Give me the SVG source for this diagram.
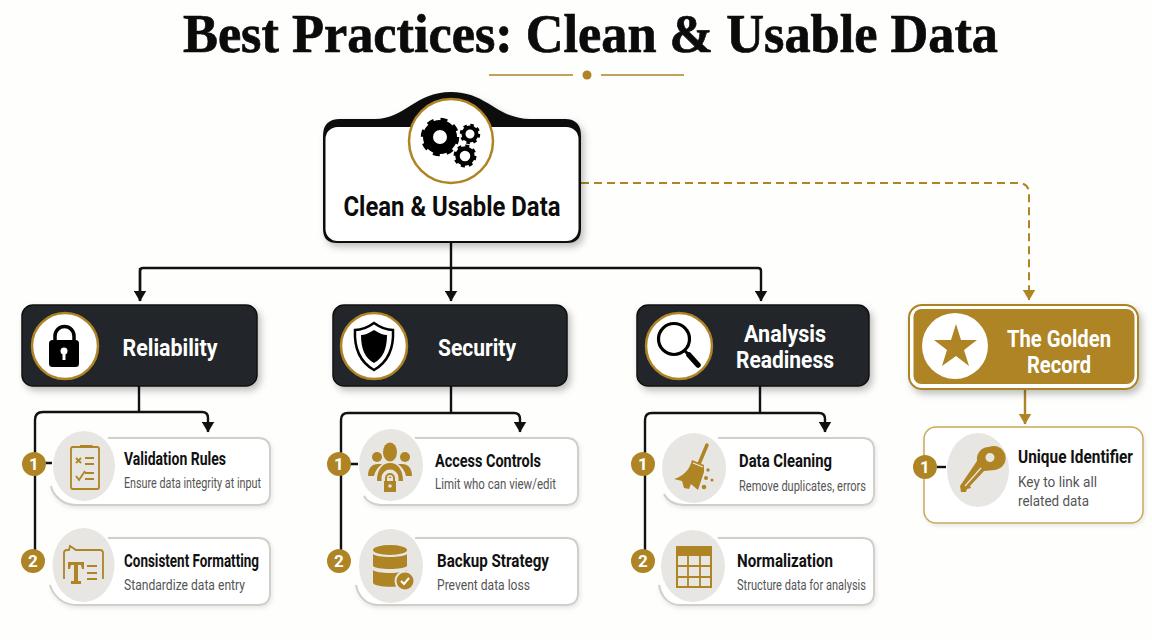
<svg xmlns="http://www.w3.org/2000/svg" width="1152" height="640" viewBox="0 0 1152 640">
<defs>
<filter id="sh" x="-10%" y="-15%" width="125%" height="135%"><feDropShadow dx="3" dy="4" stdDeviation="3.5" flood-color="#000" flood-opacity="0.25"/></filter>
<filter id="sl" x="-10%" y="-15%" width="125%" height="135%"><feDropShadow dx="1" dy="2" stdDeviation="2" flood-color="#000" flood-opacity="0.1"/></filter>
<marker id="down" viewBox="0 0 13 11" refX="6.500" refY="10.500" markerWidth="13" markerHeight="11" markerUnits="userSpaceOnUse"><path d="M0 0H13L6.500 11Z" fill="#111"/></marker>
<marker id="gdown" viewBox="0 0 13 11" refX="6.500" refY="10.500" markerWidth="13" markerHeight="11" markerUnits="userSpaceOnUse"><path d="M0 0H13L6.500 11Z" fill="#ae8424"/></marker>
</defs>
<style>
text{font-family:Roboto,"Liberation Sans",sans-serif}
.title{font-family:"Liberation Serif",serif;font-weight:700;font-size:54px;fill:#0b0b0b;stroke:#0b0b0b;stroke-width:.7px}
.head{font-weight:700;font-size:24px;fill:#fff;text-anchor:middle}
.head2{font-weight:700;font-size:23px;fill:#fff;text-anchor:middle}
.rootlabel{font-weight:700;font-size:27px;fill:#0c0c0c;text-anchor:middle}
.t{font-weight:700;font-size:18px;fill:#111}
.s{font-size:14px;fill:#555}
.s2{font-size:15px;fill:#555}
.num{font-weight:700;font-size:17px;fill:#fff;text-anchor:middle}
.line{fill:none;stroke:#111;stroke-width:2.4;stroke-linejoin:round}
.gline{fill:none;stroke:#ae8424;stroke-width:2}
.cat{fill:#24262a;stroke:#111;stroke-width:1.5;filter:url(#sh)}
.ring{fill:#fff;stroke:#ae8424;stroke-width:2.5}
.card{fill:#fff;stroke:#cfcfcb;stroke-width:2;filter:url(#sl)}
.disc{fill:#e7e6e3}
.badge{fill:#ae8424}
.gi{fill:#ae8424}
.go{fill:none;stroke:#ae8424;stroke-width:1.8}
.k{fill:#000}
</style>
<rect width="1152" height="640" fill="#fefefd"/>
<text class="title" x="183" y="52" textLength="815" lengthAdjust="spacingAndGlyphs">Best Practices: Clean &amp; Usable Data</text>
<g id="divider"><path class="gline" d="M489 75H573M601 75H684" style="stroke-width:1.6"/><circle cx="587" cy="75" r="4.500" fill="#ae8424"/></g>

<g id="connectors">
<path class="line" d="M451 243V268M140 301V271Q140 268 143 268H758Q761 268 761 271V301" marker-end="url(#down)"/>
<path class="line" d="M140 268V301" marker-end="url(#down)"/>
<path class="line" d="M451 268V301" marker-end="url(#down)"/>
<path class="gline" d="M581 183H1018Q1029 183 1029 194V300" stroke-dasharray="8 5" marker-end="url(#gdown)"/>
<path class="gline" d="M1025 389V424" style="stroke-width:2.400" marker-end="url(#gdown)"/>
<path class="line" d="M139 386V412M35 552V420Q35 412 43 412H202Q208 412 208 418V432" marker-end="url(#down)"/>
<path class="line" d="M451 386V413M341 552V420Q341 413 348 413H514Q520 413 520 419V432" marker-end="url(#down)"/>
<path class="line" d="M760 386V413M645 552V420Q645 413 652 413H819Q825 413 825 419V432" marker-end="url(#down)"/>
<path class="line" d="M44 463H52M350 464H358M935 467H946"/>
</g>

<g id="root">
<path filter="url(#sh)" fill="#111" d="M323 136Q323 119 340 119H375C405 119 415 92 451 92C487 92 497 119 530 119H565Q581 119 581 136V229Q581 243 567 243H337Q323 243 323 229Z"/>
<rect x="325.500" y="127" width="253" height="114" rx="12" fill="#fff"/>
<circle class="ring" cx="451" cy="141" r="42"/>
<g fill="none" stroke="#000">
<circle cx="440" cy="137" r="16.500" stroke-width="5.500" stroke-dasharray="6.480 6.480"/>
<circle cx="440" cy="137" r="12" stroke-width="10"/>
<circle cx="470" cy="134" r="8.500" stroke-width="3.500" stroke-dasharray="3.340 3.340"/>
<circle cx="470" cy="134" r="6.500" stroke-width="4"/>
<circle cx="465" cy="156" r="9.500" stroke-width="4" stroke-dasharray="3.730 3.730"/>
<circle cx="465" cy="156" r="7.500" stroke-width="4.500"/>
</g>
<text class="rootlabel" x="452" y="216" textLength="217" lengthAdjust="spacingAndGlyphs">Clean &amp; Usable Data</text>
</g>

<g id="reliability">
<rect class="cat" x="22" y="305" width="235" height="81" rx="11"/>
<circle class="ring" cx="65" cy="346" r="33"/>
<path d="M55 341V336A9.500 9.500 0 0 1 74 336V341" fill="none" stroke="#000" stroke-width="3.500"/>
<rect class="k" x="49" y="340" width="30" height="27" rx="3.500"/>
<circle cx="64" cy="351" r="3.500" fill="#fff"/><rect x="62.500" y="351" width="3" height="9" fill="#fff"/>
<text class="head" x="170" y="356" textLength="95" lengthAdjust="spacingAndGlyphs">Reliability</text>
</g>

<g id="validation-rules">
<path class="card" d="M108 438H258Q270 438 270 450V493Q270 505 258 505H76C62 505 53 495 51 486"/>
<ellipse class="disc" cx="84" cy="466" rx="31" ry="35"/>
<circle class="badge" cx="34" cy="464" r="12"/><text class="num" x="34" y="470">1</text>
<rect class="go" x="71" y="447" width="28" height="42" rx="2"/>
<path class="gi" d="M80 445H92L95 448H80Z"/>
<path class="go" d="M85 458H94M85 464H94M85 473H94M85 479H94M76 458L81 463M81 458L76 463M76 476L79 480L85 471"/>
<text class="t" x="124" y="465" textLength="102" lengthAdjust="spacingAndGlyphs">Validation Rules</text>
<text class="s" x="124" y="488" textLength="137" lengthAdjust="spacingAndGlyphs">Ensure data integrity at input</text>
</g>

<g id="consistent-formatting">
<path class="card" d="M108 538H258Q270 538 270 550V593Q270 605 258 605H76C62 605 53 595 50 585"/>
<ellipse class="disc" cx="83.500" cy="565" rx="31" ry="37"/>
<circle class="badge" cx="33" cy="561" r="12"/><text class="num" x="33" y="567">2</text>
<path class="go" d="M64 579V553Q64 550 67 550H69L70 546L76 550H100Q103 550 103 553V579"/>
<path class="gi" d="M68 562H84V569H82L81 565H78V581H81V584H71V581H74V565H71L70 569H68Z"/>
<path class="go" d="M87 566H97M87 573H97M87 579H97"/>
<text class="t" x="124" y="567" textLength="135" lengthAdjust="spacingAndGlyphs">Consistent Formatting</text>
<text class="s" x="124" y="590" textLength="121" lengthAdjust="spacingAndGlyphs">Standardize data entry</text>
</g>

<g id="security">
<rect class="cat" x="333" y="305" width="234" height="81" rx="11"/>
<circle class="ring" cx="374" cy="346" r="33"/>
<path d="M374 323C381 328 387 330 393 330C394 349 388 362 374 370C360 362 354 349 355 330C361 330 367 328 374 323Z" fill="#fff" stroke="#000" stroke-width="2.500"/>
<path class="k" d="M374 330C379 333 383 335 387 335C387 349 383 358 374 363C365 358 361 349 361 335C365 335 369 333 374 330Z"/>
<text class="head" x="477" y="356" textLength="78" lengthAdjust="spacingAndGlyphs">Security</text>
</g>

<g id="access-controls">
<path class="card" d="M415 438H566Q578 438 578 450V493Q578 505 566 505H381C372 505 366 500 364 496"/>
<ellipse class="disc" cx="391" cy="465" rx="32" ry="36"/>
<circle class="badge" cx="339" cy="464" r="12"/><text class="num" x="339" y="470">1</text>
<ellipse class="gi" cx="390" cy="452" rx="7" ry="9.500"/>
<circle class="gi" cx="377" cy="457" r="5"/><circle class="gi" cx="405" cy="457" r="5"/>
<path class="gi" d="M368 476C368 468 372 464 378 464L382 464C378 467 375 471 374 476Z"/>
<path class="gi" d="M412 476C412 468 408 464 402 464L398 464C402 467 405 471 406 476Z"/>
<path class="gi" d="M377 481C377 470 382 463 390 463C398 463 403 470 403 481H398V478H382V481Z"/>
<path d="M385 482V478A5 5 0 0 1 395 478V482" fill="none" stroke="#e7e6e3" stroke-width="7"/>
<path d="M386 482V478A4 4 0 0 1 394 478V482" fill="none" stroke="#ae8424" stroke-width="2"/>
<rect class="gi" x="384" y="481" width="12" height="11"/>
<circle cx="390" cy="486" r="1.800" fill="#e7e6e3"/>
<text class="t" x="435" y="467" textLength="106" lengthAdjust="spacingAndGlyphs">Access Controls</text>
<text class="s" x="435" y="489" textLength="121" lengthAdjust="spacingAndGlyphs">Limit who can view/edit</text>
</g>

<g id="backup-strategy">
<path class="card" d="M415 538H566Q578 538 578 550V593Q578 605 566 605H378C365 605 358 595 356 585"/>
<ellipse class="disc" cx="391" cy="566" rx="32" ry="37"/>
<circle class="badge" cx="339" cy="561" r="12"/><text class="num" x="339" y="567">2</text>
<ellipse class="gi" cx="390" cy="550" rx="17" ry="5"/>
<path class="gi" d="M373 554C376 558 404 558 407 554V566C404 570 376 570 373 566Z"/>
<path class="gi" d="M373 570C376 574 404 574 407 570V583C404 588 376 588 373 583Z"/>
<circle class="gi" cx="405" cy="581" r="9.500" stroke="#e7e6e3" stroke-width="2"/>
<path d="M401 581L404 584L409 578" fill="none" stroke="#fff" stroke-width="2"/>
<text class="t" x="437" y="567" textLength="112" lengthAdjust="spacingAndGlyphs">Backup Strategy</text>
<text class="s" x="437" y="590" textLength="93" lengthAdjust="spacingAndGlyphs">Prevent data loss</text>
</g>

<g id="analysis-readiness">
<rect class="cat" x="637" y="305" width="232" height="81" rx="11"/>
<circle class="ring" cx="679" cy="346" r="33"/>
<circle cx="674" cy="339" r="15.500" fill="none" stroke="#000" stroke-width="3.200"/>
<path d="M685 351L690 356" stroke="#000" stroke-width="3"/><path d="M689 355L698 365" stroke="#000" stroke-width="5.500" stroke-linecap="round"/>
<text class="head" x="785" y="342" textLength="82" lengthAdjust="spacingAndGlyphs">Analysis</text>
<text class="head" x="785" y="368" textLength="98" lengthAdjust="spacingAndGlyphs">Readiness</text>
</g>

<g id="data-cleaning">
<path class="card" d="M718 438H862Q874 438 874 450V493Q874 505 862 505H685C674 505 667 500 664 494"/>
<ellipse class="disc" cx="694" cy="468" rx="32" ry="35"/>
<circle class="badge" cx="643" cy="464" r="12"/><text class="num" x="643" y="470">1</text>
<path d="M707 445L699 464" stroke="#ae8424" stroke-width="3.500" stroke-linecap="round"/>
<path class="gi" d="M692 460L704 465L704 472L698 490L691 484L689 489L684 488L682 481L674 479C684 476 690 469 692 460Z"/>
<path d="M693 463L703 467" stroke="#e7e6e3" stroke-width="1.200"/>
<circle class="gi" cx="708" cy="470" r="1.700"/><circle class="gi" cx="706" cy="478" r="2"/><circle class="gi" cx="712" cy="480" r="1.500"/><circle class="gi" cx="704" cy="487" r="2.300"/>
<text class="t" x="739" y="467" textLength="93" lengthAdjust="spacingAndGlyphs">Data Cleaning</text>
<text class="s" x="739" y="491" textLength="127" lengthAdjust="spacingAndGlyphs">Remove duplicates, errors</text>
</g>

<g id="normalization">
<path class="card" d="M718 538H862Q874 538 874 550V593Q874 605 862 605H680C668 605 661 596 659 585"/>
<ellipse class="disc" cx="693" cy="566" rx="32" ry="36"/>
<circle class="badge" cx="643" cy="561" r="12"/><text class="num" x="643" y="567">2</text>
<rect class="gi" x="676" y="546" width="36" height="10" rx="1"/>
<rect x="677" y="547" width="34" height="40" fill="none" stroke="#ae8424" stroke-width="2"/>
<path class="go" d="M677 566H711M677 577H711M688 556V587M700 556V587"/>
<text class="t" x="737" y="567" textLength="96" lengthAdjust="spacingAndGlyphs">Normalization</text>
<text class="s" x="737" y="590" textLength="129" lengthAdjust="spacingAndGlyphs">Structure data for analysis</text>
</g>

<g id="golden-record">
<rect x="909" y="305" width="229" height="84" rx="13" fill="#fff" stroke="#ae8424" stroke-width="2" filter="url(#sh)"/>
<rect x="913.500" y="309" width="221" height="75" rx="8" fill="#ae8424"/>
<circle cx="955" cy="346" r="33" fill="#fff"/>
<path class="gi" d="M956 324L961 340L977 340L964 350L969 366L956 356L942 366L947 350L934 340L951 340Z"/>
<text class="head2" x="1059" y="346.500" textLength="104" lengthAdjust="spacingAndGlyphs">The Golden</text>
<text class="head2" x="1059" y="372.500" textLength="64" lengthAdjust="spacingAndGlyphs">Record</text>
</g>

<g id="unique-identifier">
<rect x="924" y="427" width="219" height="96" rx="12" fill="#fff" stroke="#c9a95a" stroke-width="1.500" filter="url(#sl)"/>
<ellipse class="disc" cx="978" cy="470" rx="31" ry="37"/>
<path class="line" d="M937 467H946"/>
<circle class="badge" cx="925" cy="467" r="12"/><text class="num" x="925" y="473">1</text>
<path class="gi" fill-rule="evenodd" d="M989 447A12 12 0 1 1 995 470L984 471L970 486L971 488L967 489L966 492L961 492L960 486L977 461A12 12 0 0 1 989 447ZM990 453A4.500 4.500 0 1 0 990 462A4.500 4.500 0 1 0 990 453Z"/>
<path d="M965 486L981 468" stroke="#e7e6e3" stroke-width="1.300"/>
<text class="t" x="1018" y="463" textLength="115" lengthAdjust="spacingAndGlyphs">Unique Identifier</text>
<text class="s2" x="1018" y="487" textLength="79" lengthAdjust="spacingAndGlyphs">Key to link all</text>
<text class="s2" x="1018" y="506" textLength="71" lengthAdjust="spacingAndGlyphs">related data</text>
</g>
</svg>
